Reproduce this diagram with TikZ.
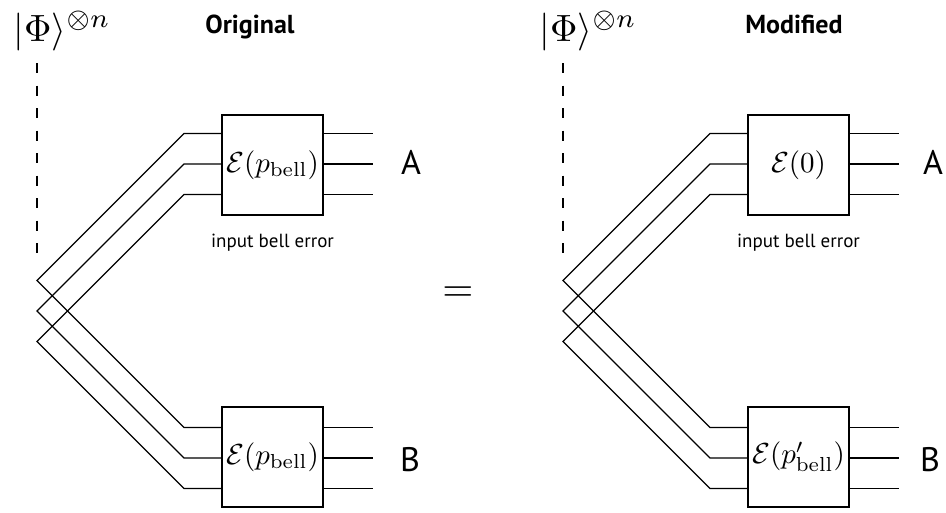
\documentclass[tikz,border=0pt]{standalone}
\usepackage{graphicx}
\usepackage{fontspec}
\newfontfamily\ptsans{PT Sans}
\begin{document}
\begin{tikzpicture}[x=1pt,y=-1pt,line width=1.2pt,
  box/.style={draw,minimum width=101pt,minimum height=100pt,inner sep=0pt},
  wire/.style={line join=miter},
  dline/.style={dash pattern=on 10pt off 12.5pt},
  title/.style={font=\ptsans\bfseries\fontsize{26}{30}\selectfont,anchor=base,inner sep=0pt},
  party/.style={font=\ptsans\fontsize{34}{36}\selectfont,anchor=base,inner sep=0pt},
  note/.style={font=\ptsans\fontsize{19}{22}\selectfont,anchor=base,inner sep=0pt},
  state/.style={anchor=base west,inner sep=0pt}]
\useasboundingbox (0,0) rectangle (946,512);
\foreach \s/\dx/\ttl/\tx/\ax/\bx/\ea/\eb in {%
  L/0/Original/250/411/410/{$\mathcal{E}(p_{\mathrm{bell}})$}/{$\mathcal{E}(p_{\mathrm{bell}})$},%
  R/526/Modified/794/933/930/{$\mathcal{E}(0)$}/{$\mathcal{E}(p'_{\mathrm{bell}})$}}{
  \node[state] (phi\s) at ({13+\dx},41) {\scalebox{3.8}{$|\Phi\rangle^{\otimes n}$}};
  \node[title] (title\s) at (\tx,33) {\ttl};
  \node[box] (top\s) at ({272.5+\dx},165) {\scalebox{2.9}{\ea}};
  \node[box] (bot\s) at ({272.5+\dx},457) {\scalebox{2.9}{\eb}};
  \node[note] (err\s) at ({272.5+\dx},247) {input bell error};
  \node[party] (A\s) at (\ax,174) {A};
  \node[party] (B\s) at (\bx,471) {B};
  \coordinate (dt\s) at ({37+\dx},63);
  \coordinate (db\s) at ({37+\dx},256);
  \draw[dline] (dt\s) -- (db\s);
  \foreach \i in {0,1,2}{
    \coordinate (v\s\i) at ({37+\dx},{280.5+30.5*\i});
    \coordinate (tb\s\i) at ({184+\dx},{133.5+30.5*\i});
    \coordinate (bb\s\i) at ({184+\dx},{427.5+30.5*\i});
    \coordinate (to\s\i) at ({373+\dx},{133.5+30.5*\i});
    \coordinate (bo\s\i) at ({373+\dx},{427.5+30.5*\i});
    \draw[wire] (top\s.west |- tb\s\i) -- (tb\s\i) -- (v\s\i) -- (bb\s\i) -- (bot\s.west |- bb\s\i);
    \draw (top\s.east |- to\s\i) -- (to\s\i);
    \draw (bot\s.east |- bo\s\i) -- (bo\s\i);
  }
}
\node (eq) at (458,294) {\scalebox{4}{$=$}};
\end{tikzpicture}
\end{document}
